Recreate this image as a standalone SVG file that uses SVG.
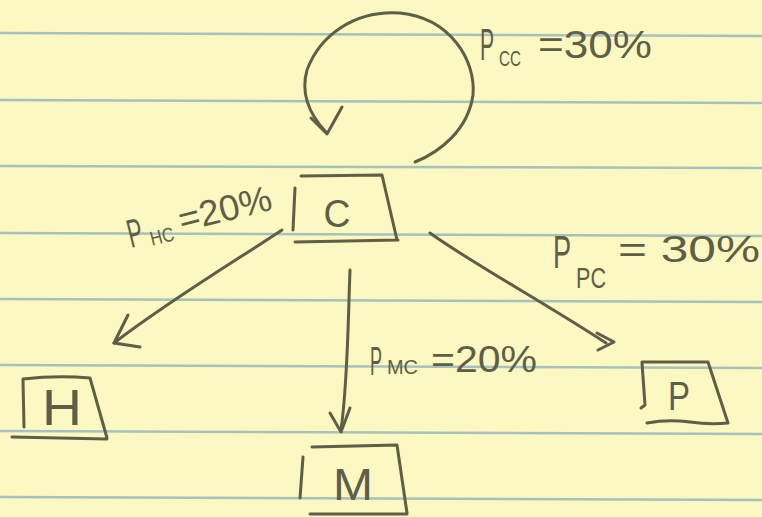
<svg xmlns="http://www.w3.org/2000/svg" width="762" height="517" viewBox="0 0 762 517">
  <style>
    .ink{fill:none;stroke:#5f5e46;stroke-width:3;stroke-linecap:round;stroke-linejoin:round}
    .rule{fill:none;stroke:#a7c1bd;stroke-width:2.5}
    .t{fill:#5f5e46;font-family:"Liberation Sans","DejaVu Sans",sans-serif}
  </style>
  <rect x="0" y="0" width="762" height="517" fill="#fbf8c2"/>
  <g id="paper-rules">
    <line class="rule" x1="0" y1="33" x2="762" y2="36"/>
    <line class="rule" x1="0" y1="100" x2="762" y2="103"/>
    <line class="rule" x1="0" y1="166" x2="762" y2="168"/>
    <line class="rule" x1="0" y1="233" x2="762" y2="236"/>
    <line class="rule" x1="0" y1="299" x2="762" y2="302"/>
    <line class="rule" x1="0" y1="365" x2="762" y2="368"/>
    <line class="rule" x1="0" y1="431" x2="762" y2="434"/>
    <line class="rule" x1="0" y1="497" x2="762" y2="500"/>
  </g>

  <g id="node-C">
    <path class="ink" d="M301,176 L382,175 L397,240 M295,242 L398,240 M295,188 L293,230"/>
    <text class="t" x="337" y="227" font-size="38" text-anchor="middle" textLength="27" lengthAdjust="spacingAndGlyphs">C</text>
  </g>
  <g id="node-H">
    <path class="ink" d="M23,379 Q57,375 90,378 L107,438 M12,437 L107,439 M23,380 L24,427"/>
    <text class="t" x="62" y="425" font-size="50" text-anchor="middle" textLength="40" lengthAdjust="spacingAndGlyphs">H</text>
  </g>
  <g id="node-M">
    <path class="ink" d="M312,447 L397,445 L407,513 M310,514 L407,514 M303,457 L300,498"/>
    <text class="t" x="353" y="500" font-size="44" text-anchor="middle" textLength="40" lengthAdjust="spacingAndGlyphs">M</text>
  </g>
  <g id="node-P">
    <path class="ink" d="M642,362 L708,362 L728,423 M647,423 Q668,419 690,422 Q710,425 728,423 M642,363 L645,405 L641,408"/>
    <text class="t" x="679" y="410" font-size="40" text-anchor="middle" textLength="22" lengthAdjust="spacingAndGlyphs">P</text>
  </g>

  <g id="connectors">
    <g id="edge-CC">
      <path class="ink" d="M415,162 C440,152 468,130 473,95 C476,60 450,18 400,13 C355,10 320,35 307,70 C300,95 310,115 326,132"/>
      <path class="ink" d="M311,118 L327,134 L342,107"/>
      <text class="t" transform="translate(480,60) scale(0.48,1)" font-size="44">P</text>
      <text class="t" x="499" y="66" font-size="22" textLength="22" lengthAdjust="spacingAndGlyphs">CC</text>
      <text class="t" x="538" y="58" font-size="39" textLength="114" lengthAdjust="spacingAndGlyphs">=30%</text>
    </g>
    <g id="edge-HC">
      <path class="ink" d="M282,230 C240,258 170,300 114,343"/>
      <path class="ink" d="M128,315 L114,343 L140,347"/>
      <g transform="translate(131,248) rotate(-14)">
        <text class="t" transform="scale(0.56,1)" x="0" y="0" font-size="40">P</text>
        <text class="t" x="21" y="3" font-size="20" textLength="24" lengthAdjust="spacingAndGlyphs">HC</text>
        <text class="t" x="53" y="-3" font-size="36" textLength="95" lengthAdjust="spacingAndGlyphs">=20%</text>
      </g>
    </g>
    <g id="edge-MC">
      <path class="ink" d="M350,270 C348,320 348,380 341,430"/>
      <path class="ink" d="M330,413 L341,432 L350,408"/>
      <text class="t" transform="translate(370,375) scale(0.45,1)" font-size="40">P</text>
      <text class="t" x="387" y="374" font-size="21" textLength="31" lengthAdjust="spacingAndGlyphs">MC</text>
      <text class="t" x="431" y="372" font-size="37" textLength="106" lengthAdjust="spacingAndGlyphs">=20%</text>
    </g>
    <g id="edge-PC">
      <path class="ink" d="M430,233 C470,262 540,300 606,343"/>
      <path class="ink" d="M597,333 L614,342 L598,350"/>
      <text class="t" transform="translate(553,268) scale(0.59,1)" font-size="46">P</text>
      <text class="t" x="576" y="288" font-size="30" textLength="30" lengthAdjust="spacingAndGlyphs">PC</text>
      <text class="t" x="618" y="262" font-size="36" textLength="142" lengthAdjust="spacingAndGlyphs">= 30%</text>
    </g>
  </g>
</svg>
